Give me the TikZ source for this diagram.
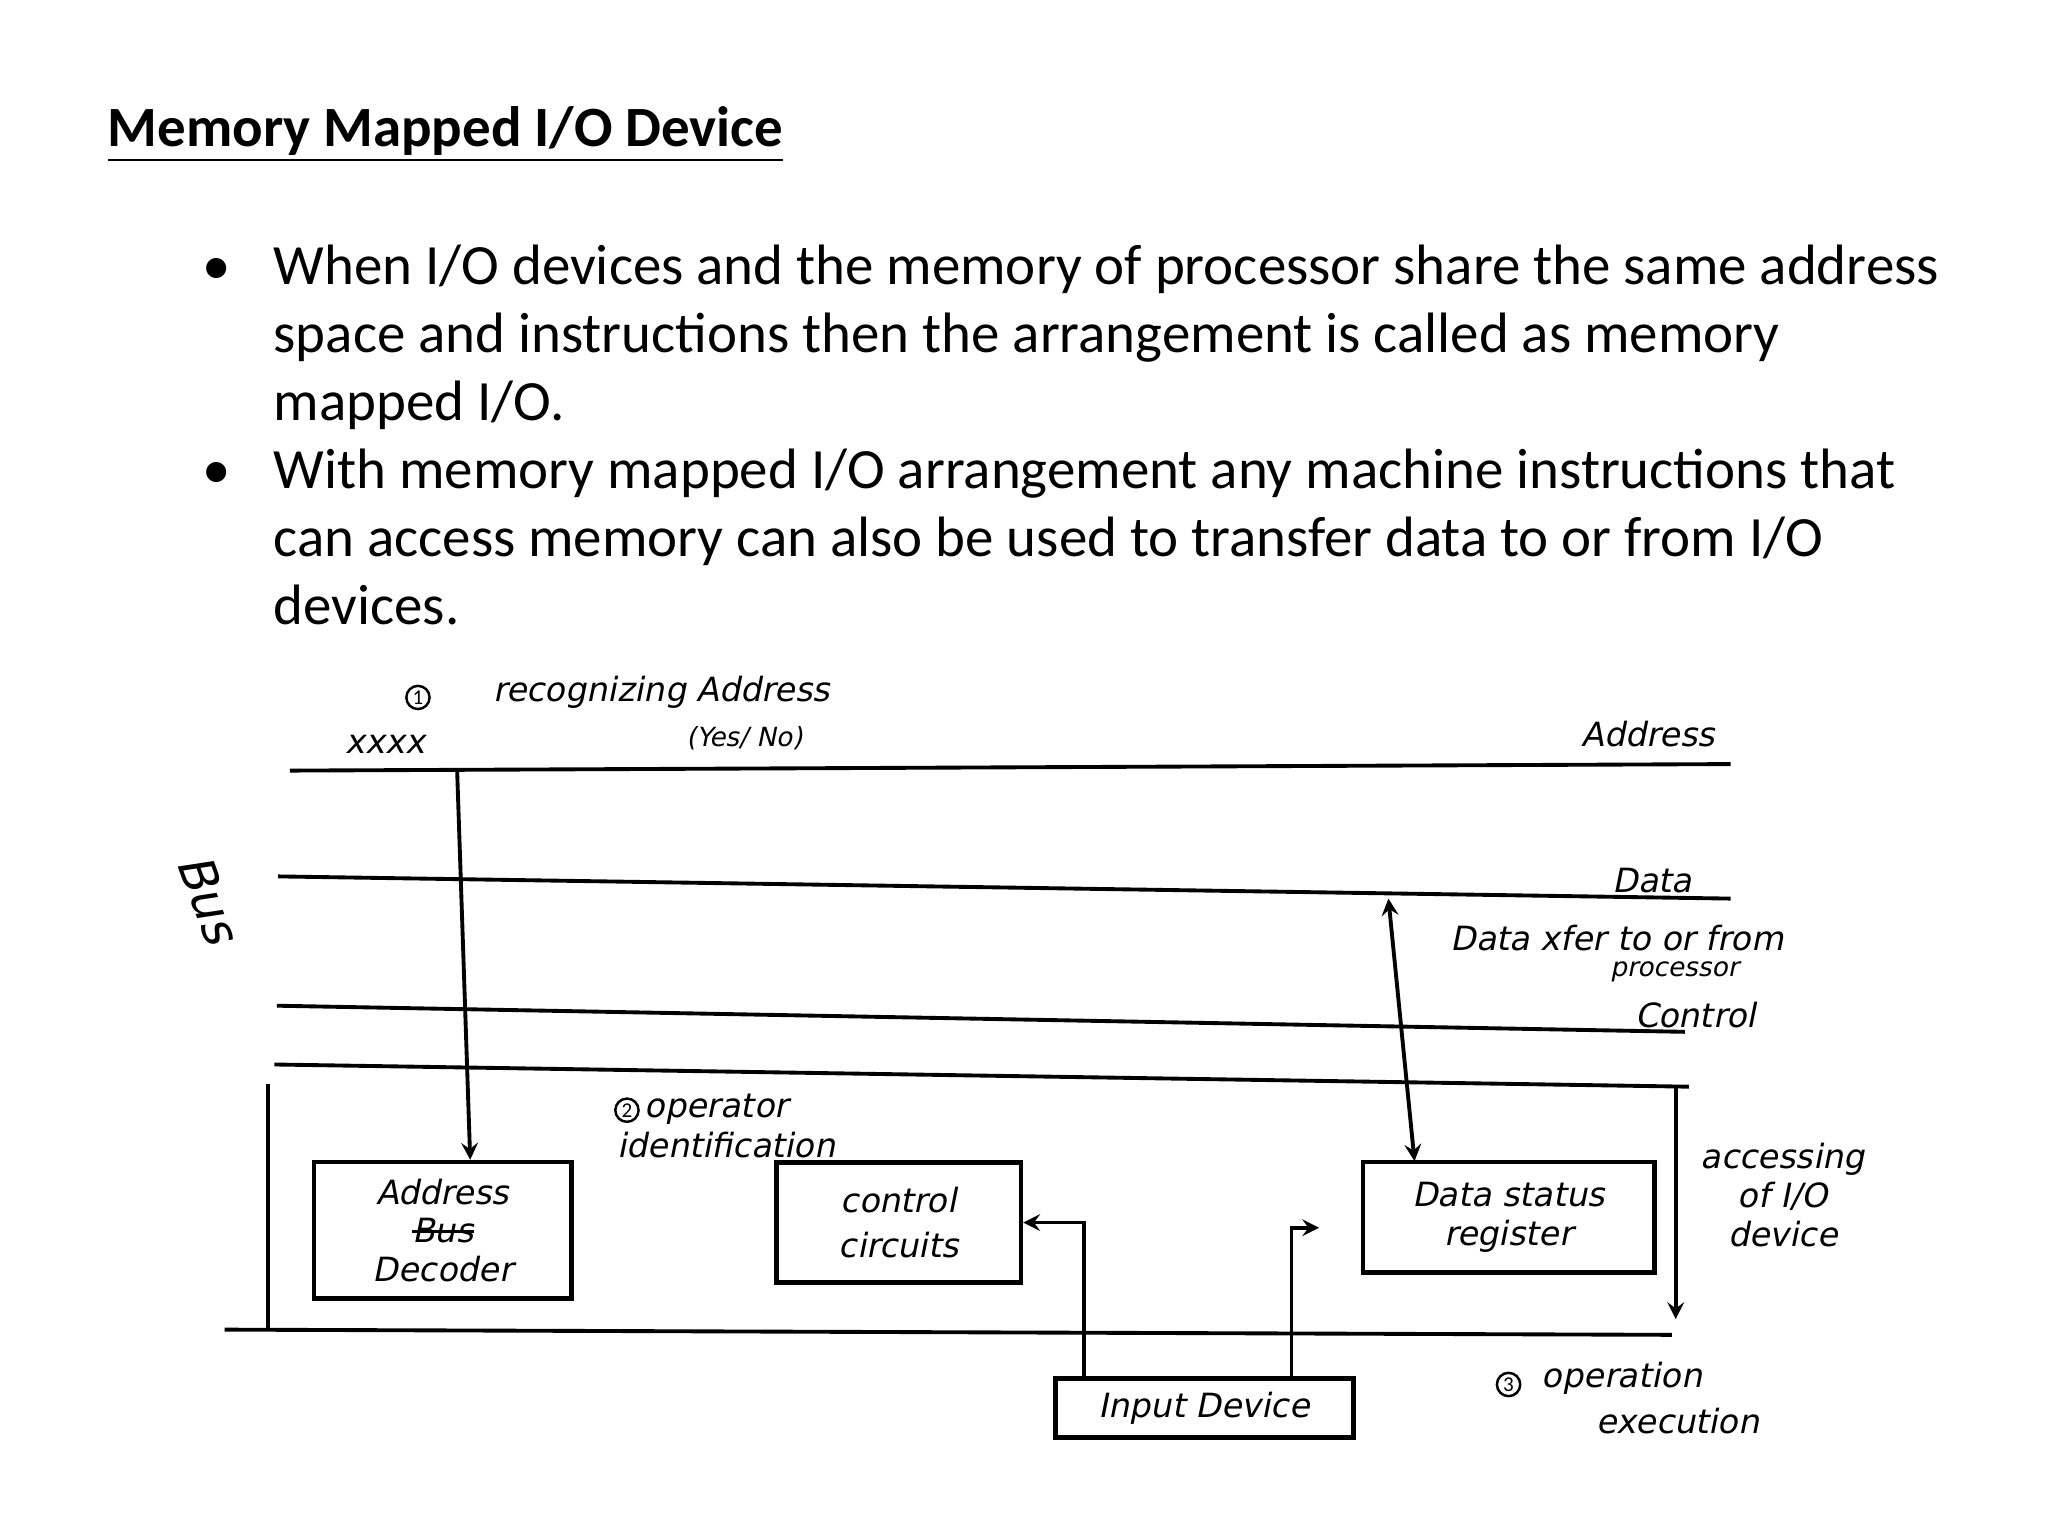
\documentclass[tikz,border=0pt]{standalone}
\usepackage{fontspec}
\setmainfont{Carlito}
\newfontfamily\hand{DejaVu Sans}[FakeSlant=0.2]
\newsavebox\strkbox
\newcommand\strk[1]{\sbox\strkbox{#1}\rlap{\rule[0.3em]{\wd\strkbox}{0.8pt}}\usebox\strkbox}
\begin{document}
\begin{tikzpicture}[x=0.013061cm,y=-0.013061cm,
  hw/.style={font=\hand\fontsize{9.5}{11}\selectfont},
  hs/.style={font=\hand\fontsize{7.5}{8}\selectfont},
  ln/.style={line width=1.1pt},
  bx/.style={draw,line width=1.3pt,inner sep=0pt},
  cr/.style={draw,circle,inner sep=0.6pt,line width=0.7pt,font=\fontsize{6}{6}\selectfont},
  bt/.style={anchor=base west,align=left,font=\fontsize{16.2}{19.3}\selectfont},
  >=stealth]
\useasboundingbox (0,0) rectangle (1568,1176);
\node[anchor=base west,inner sep=0pt,font=\bfseries\fontsize{16.2}{18}\selectfont] (title) at (82,112) {\underline{Memory Mapped I/O Device}};
\node[anchor=base,font=\fontsize{16.2}{18}\selectfont] (u1) at (166,218) {\textbullet};
\node[bt,inner sep=0pt] (b1) at (209,322) {When I/O devices and the memory of processor share the same address\\space and instructions then the arrangement is called as memory\\mapped I/O.};
\node[anchor=base,font=\fontsize{16.2}{18}\selectfont] (u2) at (166,374) {\textbullet};
\node[bt,inner sep=0pt] (b2) at (209,478) {With memory mapped I/O arrangement any machine instructions that\\can access memory can also be used to transfer data to or from I/O\\devices.};
% bus lines
\coordinate (a1) at (222,590); \coordinate (a2) at (1325,585);
\draw[ln] (a1) -- (a2);
\coordinate (d1) at (213,671); \coordinate (d2) at (1325,688);
\draw[ln] (d1) -- (d2);
\coordinate (c1) at (212,770); \coordinate (c2) at (1290,790);
\draw[ln] (c1) -- (c2);
\coordinate (e1) at (210,815); \coordinate (e2) at (1293,832);
\draw[ln] (e1) -- (e2);
% enclosure
\coordinate (l1) at (205,830); \coordinate (l2) at (205,1018);
\draw[ln] (l1) -- (l2);
\coordinate (f1) at (172,1018); \coordinate (f2) at (1280,1022);
\draw[ln] (f1) -- (f2);
\coordinate (r1) at (1283,832); \coordinate (r2) at (1283,1010);
\draw[ln,->] (r1) -- (r2);
% boxes
\node[bx,minimum width=198*0.3703pt,minimum height=105*0.3703pt,hw,align=center] (dec) at (339,942) {Address\\\strk{Bus}\\Decoder};
\node[bx,minimum width=188*0.3703pt,minimum height=92*0.3703pt,hw,align=center] (ctl) at (688,936) {control\\[2pt]circuits};
\node[bx,minimum width=224*0.3703pt,minimum height=85*0.3703pt,hw,align=center] (dsr) at (1155,932) {Data status\\register};
\node[bx,minimum width=229*0.3703pt,minimum height=45*0.3703pt,hw] (inp) at (922,1078) {Input Device};
\coordinate (ta) at (350,590);
\draw[ln,->] (ta) -- (dec.north -| 360,0);
\coordinate (td) at (1063,688);
\draw[ln,<->] (td) -- (1083,889);
\draw[ln,->] (inp.north west) ++(24,0) |- (ctl.east);
\coordinate (ie) at (1010,940);
\draw[ln,->] (inp.north east) ++(-49,0) |- (ie);
% labels
\node[cr] (n1) at (320,534) {1};
\node[hw,anchor=west] (l1t) at (368,530) {recognizing Address};
\node[hs] (yn) at (570,565) {(Yes/ No)};
\node[hw] (xx) at (295,570) {xxxx};
\node[hw] (adl) at (1262,562) {Address};
\node[hw] (dal) at (1265,674) {Data};
\node[hw] (xf) at (1238,718) {Data xfer to or from};
\node[hs] (pr) at (1282,744) {processor};
\node[hw] (cl) at (1298,777) {Control};
\node[hw,font=\hand\fontsize{14}{14}\selectfont,rotate=-70] (bus) at (160,688) {Bus};
\node[cr] (n2) at (480,850) {2};
\node[hw,anchor=west,inner sep=0pt] (op) at (493,849) {operator};
\node[hw,anchor=west,inner sep=0pt] (op2) at (472,877) {identification};
\node[hw,align=center] (acc) at (1365,915) {accessing\\of I/O\\device};
\node[cr] (n3) at (1155,1060) {3};
\node[hw,anchor=west,inner sep=0pt] (ex) at (1180,1055) {operation};
\node[hw,anchor=west,inner sep=0pt] (ex2) at (1222,1088) {execution};
\end{tikzpicture}
\end{document}
